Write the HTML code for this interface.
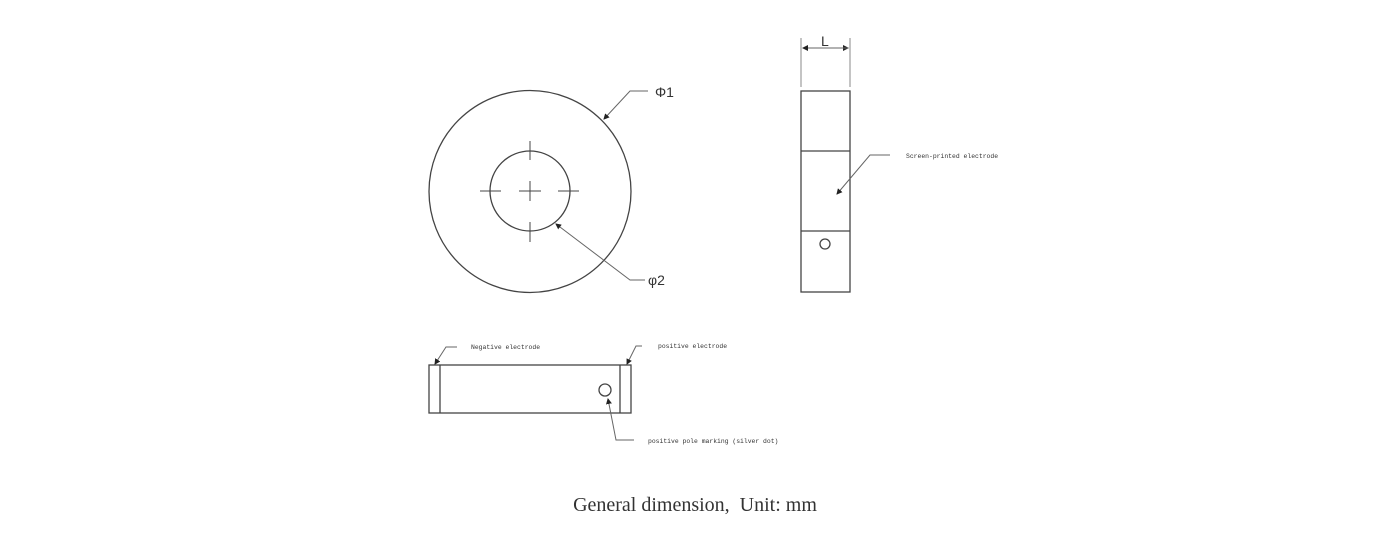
<!DOCTYPE html>
<html><head><meta charset="utf-8"><style>
html,body{margin:0;padding:0;background:#fff;width:1396px;height:543px;overflow:hidden}
</style></head><body>
<svg width="1396" height="543" viewBox="0 0 1396 543" xmlns="http://www.w3.org/2000/svg">
<defs><marker id="a" markerWidth="6" markerHeight="6" refX="5" refY="3" orient="auto"><path d="M0,0 L6,3 L0,6z" fill="#222"/></marker></defs>
<g fill="none" stroke="#444" stroke-width="1.3">
<circle cx="530" cy="191.5" r="101"/>
<circle cx="530" cy="191" r="40"/>
<path d="M480 191H501M519 191H541M558 191H579M530 141V160M530 181V201M530 222V242" stroke-width="1"/>
<rect x="801" y="91" width="49" height="201"/>
<path d="M801 151H850M801 231H850"/>
<circle cx="825" cy="244" r="5"/>
<path d="M801 38V87M850 38V87" stroke="#888" stroke-width="1"/>
<rect x="429" y="365" width="202" height="48"/>
<path d="M440 365V413M620 365V413"/>
<circle cx="605" cy="390" r="6"/>
</g>
<g fill="none" stroke="#666" stroke-width="1">
<path d="M803 48H848" marker-end="url(#a)"/><path d="M848 48H803" marker-end="url(#a)"/>
<path d="M648 91H630L604 119" marker-end="url(#a)"/>
<path d="M645 280H630L556 224" marker-end="url(#a)"/>
<path d="M890 155H870L837 194" marker-end="url(#a)"/>
<path d="M457 347H446L435 364" marker-end="url(#a)"/>
<path d="M642 346H636L627 364" marker-end="url(#a)"/>
<path d="M634 440H616L608 399" marker-end="url(#a)"/>
</g>
<g font-family="Liberation Sans, sans-serif" fill="#333">
<text x="655" y="97" font-size="14">Φ1</text>
<text x="648" y="285" font-size="14">φ2</text>
<text x="821" y="46" font-size="14">L</text>
<g font-family="Liberation Mono, monospace" font-size="6.4">
<text x="906" y="158">Screen-printed electrode</text>
<text x="471" y="349">Negative electrode</text>
<text x="658" y="348">positive electrode</text>
<text x="648" y="443">positive pole marking (silver dot)</text>
</g>
</g>
<text x="695" y="511" font-family="Liberation Serif, serif" font-size="20" fill="#333" text-anchor="middle" xml:space="preserve" style="white-space:pre">General dimension,  Unit: mm</text>
</svg>
</body></html>
